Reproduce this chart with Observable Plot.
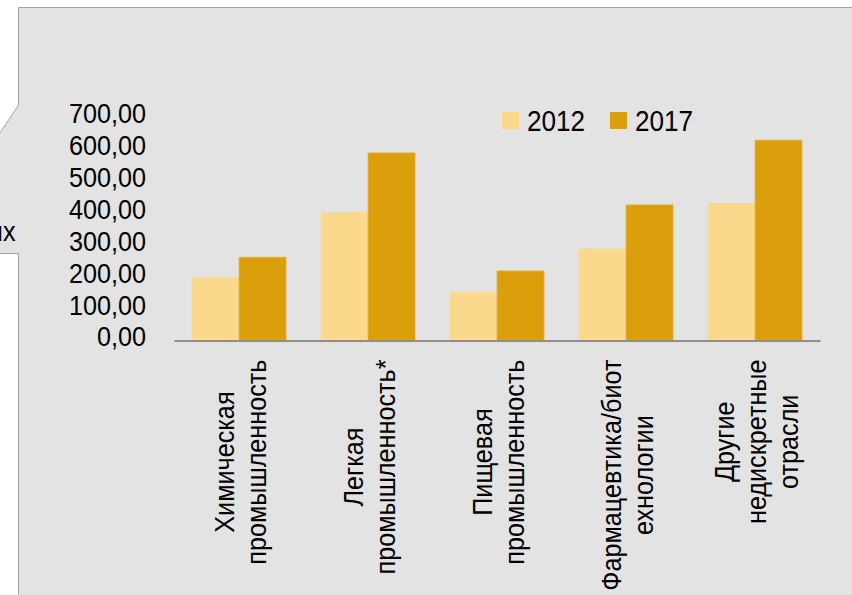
<!DOCTYPE html>
<html>
<head>
<meta charset="utf-8">
<script src="https://cdn.jsdelivr.net/npm/d3@7"></script>
<script src="https://cdn.jsdelivr.net/npm/@observablehq/plot@0.6"></script>
<style>
  html, body { margin: 0; padding: 0; background: #ffffff; }
  #wrap { position: relative; width: 852px; height: 595px; overflow: hidden; font-family: "Liberation Sans", Arial, sans-serif; }
  #bg, #chart, #over { position: absolute; left: 0; top: 0; }
</style>
</head>
<body>
<div id="wrap">
  <svg id="bg" width="852" height="595">
    <path d="M18.5,7.5 H852 V595 H18.5 V253.5 H0 V133 L18.5,105 Z" fill="#e3e3e3"></path>
    <path d="M852,7.5 H18.5 V105 L0,133 M0,253.5 H18.5 V595" fill="none" stroke="#a3a3a3" stroke-width="1"></path>
  </svg>
  <div id="chart"></div>
  <svg id="over" width="852" height="595"></svg>
</div>
<script>
// ---- data ----
const categories = [
  "Химическая\nпромышленность",
  "Легкая\nпромышленность*",
  "Пищевая\nпромышленность",
  "Фармацевтика/биот\nехнологии",
  "Другие\nнедискретные\nотрасли"
];
const years = ["2012", "2017"];
const values2012 = [197, 401, 152, 287, 430];
const values2017 = [261, 588, 218, 425, 628];
const yTicks = [0, 100, 200, 300, 400, 500, 600, 700];
const colors = ["#fad88c", "#db9f0b"];
const strokes = ["#f6dc9c", "#e4ae34"];

// ---- layout / style ----
const W = 852, H = 595;
const mL = 174.5, mR = 31.5, mT = 117.2, mB = 254.5;
const pi = 0.2713, po = 0.1357;
const FS = 28, SX = 0.9;
const step = (W - mL - mR) / (categories.length - pi + 2 * po);
const bw = step * (1 - pi);

const rows = categories.map((c, i) => ({category: c, v2012: values2012[i], v2017: values2017[i]}));

const chart = Plot.plot({
  width: W, height: H,
  marginLeft: mL, marginRight: mR, marginTop: mT, marginBottom: mB,
  style: {background: "transparent", fontFamily: "'Liberation Sans', Arial, sans-serif", color: "#000", overflow: "visible"},
  x: {domain: categories, paddingInner: pi, paddingOuter: po, axis: null},
  y: {domain: [0, 700], axis: null},
  marks: [
    Plot.barY(rows, {x: "category", y: "v2012", fill: colors[0], stroke: strokes[0], strokeWidth: 0.8, insetRight: bw / 2}),
    Plot.barY(rows, {x: "category", y: "v2017", fill: colors[1], stroke: strokes[1], strokeWidth: 0.8, insetLeft: bw / 2}),
    Plot.ruleY([0], {stroke: "#8e8e8e", strokeWidth: 2}),
    Plot.axisY(yTicks, {tickSize: 0, tickPadding: 29, tickFormat: d => d.toFixed(2).replace(".", ","), fontSize: FS, dy: -3.5, label: null, fill: "#000"}),
    Plot.text(categories, {x: d => d, frameAnchor: "bottom", rotate: -90, textAnchor: "middle", lineAnchor: "middle", lineHeight: 1.15, fontSize: FS, fill: "#000"})
  ]
});
document.getElementById("chart").append(chart);

// compress text horizontally and place rotated category labels below the axis
chart.querySelectorAll("text").forEach(t => {
  const tr = t.getAttribute("transform") || "";
  if (tr.includes("rotate")) {
    let maxLen = 0;
    const spans = t.querySelectorAll("tspan");
    (spans.length ? Array.from(spans) : [t]).forEach(s => { maxLen = Math.max(maxLen, s.getComputedTextLength()); });
    const off = 18.5 + maxLen * SX / 2;
    t.setAttribute("transform", `translate(0,${off}) ${tr} scale(${SX},1)`);
  } else {
    t.setAttribute("transform", `${tr} scale(${SX},1)`);
  }
});

// legend and fragment text
const over = d3.select("#over");
const legX = [502, 610];
years.forEach((yr, i) => {
  over.append("rect").attr("x", legX[i]).attr("y", 112).attr("width", 17).attr("height", 17).attr("fill", colors[i]);
  over.append("text").text(yr)
    .attr("transform", `translate(${legX[i] + 25},131) scale(${SX},1)`)
    .attr("font-size", 29).attr("font-family", "'Liberation Sans', Arial, sans-serif").attr("fill", "#000");
});
over.append("text").text("ых")
  .attr("transform", `translate(15.5,241) scale(${SX},1)`)
  .attr("text-anchor", "end")
  .attr("font-size", FS).attr("font-family", "'Liberation Sans', Arial, sans-serif").attr("fill", "#000");
</script>
</body>
</html>
